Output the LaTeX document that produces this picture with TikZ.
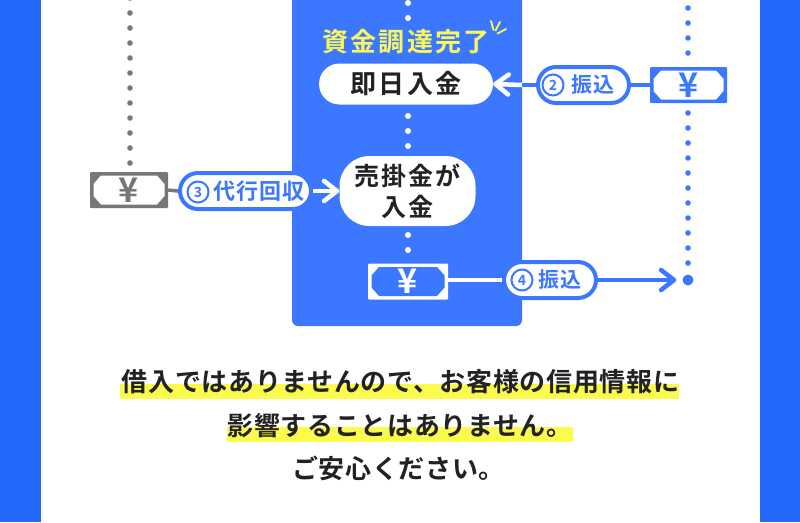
\documentclass[tikz,border=0pt]{standalone}
\usepackage{fontspec}
\usetikzlibrary{arrows.meta}
\newfontfamily\cjkb[LetterSpace=2.5]{Noto Sans CJK JP Bold}
\newfontfamily\cjkw[LetterSpace=8]{Noto Sans CJK JP Bold}
\newfontfamily\cjkm[LetterSpace=4]{Noto Sans CJK JP Bold}
\newfontfamily\cjkp{Noto Sans CJK JP Bold}
\definecolor{band}{HTML}{2468FA}
\definecolor{panelblue}{HTML}{3B78FF}
\definecolor{hl}{HTML}{FBFB4E}
\definecolor{ink}{HTML}{222222}
\definecolor{greyc}{HTML}{777777}
\definecolor{sunny}{HTML}{FAF85A}
\tikzset{
  whitepill/.style={fill=white,rounded corners=20.5pt,inner sep=0pt,font=\fontsize{26}{30}\selectfont\cjkw,text=ink},
  labelpill/.style={draw=panelblue,fill=white,line width=4pt,rounded corners=18pt,inner sep=0pt,minimum height=36pt},
  labeltext/.style={inner sep=0pt,text=panelblue,font=\fontsize{21}{24}\selectfont\cjkm},
  numring/.style={circle,draw=panelblue,line width=2pt,inner sep=0pt,minimum size=21pt,text=panelblue,font=\fontsize{14}{14}\selectfont\cjkp},
  conn/.style={line width=3.5pt},
  barb/.style={-{Straight Barb[length=13pt,width=20pt,line cap=round,line join=round]},line width=4.5pt},
  mainline/.style={inner sep=0pt,text=ink,font=\fontsize{26}{30}\selectfont\cjkb},
  billbox/.style={rectangle,rounded corners=1pt,inner sep=0pt,minimum width=#1pt,minimum height=36pt},
}
\newcommand\billnote[6]{% name,x,y,width,outer,inner
  \node[billbox=#4,fill=#5] (#1) at (#2,#3) {};
  \pgfmathsetmacro\hw{#4/2-3.5}\pgfmathsetmacro\hx{#4/2-11}
  \fill[#6,line join=round] (#2-\hx,#3-14.5) -- (#2+\hx,#3-14.5) -- (#2+\hw,#3-6) -- (#2+\hw,#3+6) -- (#2+\hx,#3+14.5) -- (#2-\hx,#3+14.5) -- (#2-\hw,#3+6) -- (#2-\hw,#3-6) -- cycle;
  \node[inner sep=0pt,text=#5,font=\fontsize{34}{34}\selectfont\cjkp] at (#2,#3) {¥};
}
\begin{document}
\begin{tikzpicture}[x=1pt,y=-1pt]
\useasboundingbox (0,0) rectangle (800,522);
\clip (0,0) rectangle (800,522);
\fill[band] (0,0) rectangle (800,522);
\fill[white] (41,0) rectangle (760,522);
\fill[panelblue,rounded corners=6pt] (292,-12) rectangle (522,326);
% dots
\foreach \y in {-2,13,...,163} \fill[greyc] (130,\y) circle (2.8);
\foreach \y in {8,23,38,53,113,128,...,263} \fill[panelblue] (688,\y) circle (2.8);
\foreach \y in {3,18,116,131,146,235,250} \fill[white] (408,\y) circle (3);
\node[circle,fill=panelblue,minimum size=11pt,inner sep=0pt] (end) at (688,280) {};
% panel texts
\node[inner sep=0pt,text=sunny,font=\fontsize{26}{30}\selectfont\cjkw] (done) at (406,42) {資金調達完了};
\draw[sunny,line width=1.8pt,line cap=round] (491,21)--(493.5,30) (500,22)--(495.5,30.5) (506,29)--(497.5,33.5);
\node[whitepill,minimum width=174pt,minimum height=41pt] (today) at (406,84) {即日入金};
\node[whitepill,rounded corners=30pt,minimum width=136pt,minimum height=70pt,align=center,font=\fontsize{25}{31}\selectfont\cjkw] (sale) at (407.5,191) {売掛金が\\入金};
% bills
\billnote{billr}{688.5}{85}{77}{panelblue}{white}
\billnote{billg}{129}{190}{78}{greyc}{white}
\billnote{billw}{408}{281.5}{80}{white}{panelblue}
% pills
\node[labelpill,minimum width=91pt] (p2) at (583.5,85) {};
\node[labelpill,minimum width=131pt] (p3) at (245.5,191) {};
\node[labelpill,minimum width=92pt] (p4) at (550,280) {};
\node[numring] (n2) at (553,85) {2};
\node[numring] (n3) at (198,192) {3};
\node[numring] (n4) at (522,280) {4};
\node[labeltext] (t2) at (593,85) {振込};
\node[labeltext,font=\fontsize{22}{24}\selectfont\cjkm] (t3) at (259,191) {代行回収};
\node[labeltext] (t4) at (560,280) {振込};
% connectors
\coordinate (e2) at (522,85);
\coordinate (e4) at (522,280);
\draw[conn,panelblue] (billr.west) -- (p2.east);
\draw[conn,panelblue] (p2.west) -- (e2);
\draw[barb,white] (e2) -- (today.east);
\draw[conn,greyc] (billg.east) -- (p3.west);
\draw[barb,white] (p3.east) -- (sale.west);
\draw[conn,white] (billw.east |- p4.west) -- (p4.west);
\draw[barb,panelblue,shorten >=6pt] (p4.east) -- (end);
% bottom text
\fill[hl] (120,384) rectangle (679,399);
\fill[hl] (227,427) rectangle (573,442);
\node[mainline] (l1) at (400.5,382) {借入ではありませんので、お客様の信用情報に};
\node[mainline] (l2) at (400,426) {影響することはありません。};
\node[mainline] (l3) at (398.5,468) {ご安心ください。};
\end{tikzpicture}
\end{document}
